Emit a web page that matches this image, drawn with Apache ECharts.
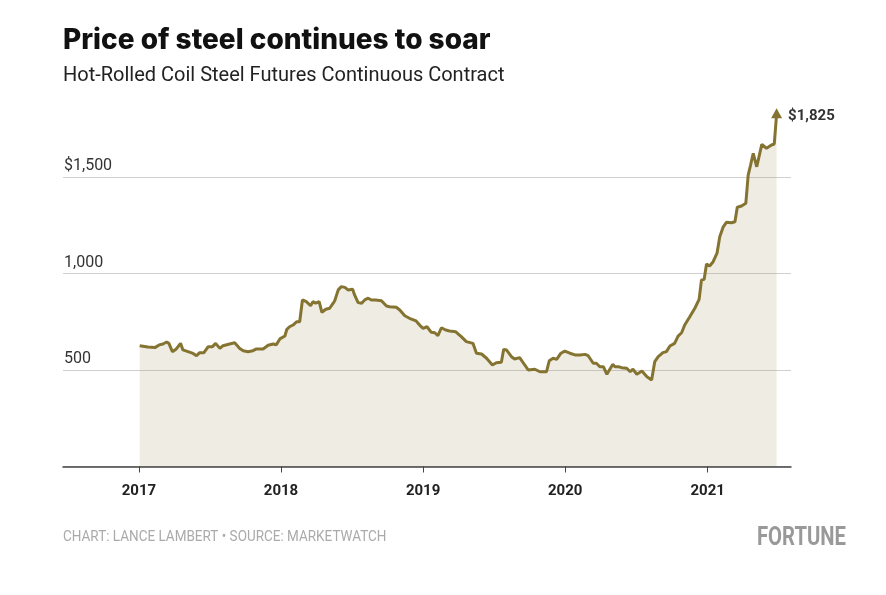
<!DOCTYPE html>
<html>
<head>
<meta charset="utf-8">
<script src="https://cdn.jsdelivr.net/npm/echarts@6/dist/echarts.min.js"></script>
<style>
  html, body { margin: 0; padding: 0; background: #fff; }
  #chart { width: 886px; height: 595px; }
</style>
</head>
<body>
<div id="chart"></div>
<script>
// hot-rolled coil futures (roughly every 1-2 weeks)
const dates = [
  '2017-01-03','2017-01-24','2017-02-11','2017-02-15','2017-02-22','2017-03-04','2017-03-13','2017-03-19','2017-03-28','2017-04-07',
  '2017-04-18','2017-04-24','2017-05-07','2017-05-20','2017-05-29','2017-06-06','2017-06-17','2017-06-28','2017-07-09','2017-07-17',
  '2017-07-28','2017-08-05','2017-08-22','2017-09-04','2017-09-17','2017-09-26','2017-10-08','2017-10-21','2017-10-30','2017-11-16',
  '2017-11-29','2017-12-12','2017-12-20','2017-12-29',
  '2018-01-11','2018-01-16','2018-01-23','2018-02-01','2018-02-10','2018-02-18','2018-02-25','2018-02-28','2018-03-07','2018-03-18',
  '2018-03-24','2018-03-31','2018-04-09','2018-04-16','2018-04-26','2018-05-06','2018-05-15','2018-05-19','2018-05-28','2018-06-05',
  '2018-06-14','2018-06-22','2018-07-04','2018-07-09','2018-07-18','2018-07-27','2018-08-04','2018-08-13','2018-08-21','2018-09-01',
  '2018-09-16','2018-09-29','2018-10-07','2018-10-24','2018-11-02','2018-11-15','2018-11-27','2018-12-14','2018-12-23',
  '2019-01-01','2019-01-11','2019-01-22','2019-01-31','2019-02-08','2019-02-17','2019-02-28','2019-03-10','2019-03-26','2019-04-09',
  '2019-04-22','2019-05-09','2019-05-18','2019-05-31','2019-06-13','2019-06-28','2019-07-08','2019-07-21','2019-07-27','2019-08-03',
  '2019-08-16','2019-08-24','2019-09-06','2019-09-19','2019-09-28','2019-10-15','2019-10-28','2019-11-14','2019-11-21','2019-12-01',
  '2019-12-10','2019-12-21','2019-12-31',
  '2020-01-13','2020-01-26','2020-02-08','2020-02-21','2020-02-29','2020-03-13','2020-03-21','2020-03-30','2020-04-08','2020-04-17',
  '2020-05-02','2020-05-08','2020-05-17','2020-05-25','2020-06-07','2020-06-16','2020-06-23','2020-07-03','2020-07-16','2020-07-29',
  '2020-08-10','2020-08-18','2020-08-27','2020-09-08','2020-09-17','2020-09-26','2020-10-08','2020-10-17','2020-10-26','2020-11-03',
  '2020-11-16','2020-11-29','2020-12-10','2020-12-16','2020-12-23','2020-12-29',
  '2021-01-06','2021-01-15','2021-01-25','2021-02-01','2021-02-10','2021-02-18','2021-03-03','2021-03-12','2021-03-18','2021-03-29',
  '2021-04-09','2021-04-15','2021-04-21','2021-04-28','2021-05-07','2021-05-20','2021-06-01','2021-06-14','2021-06-21','2021-06-27'
];
const prices = [
  626, 619, 616, 612, 630, 635, 645, 638, 595, 609,
  638, 604, 595, 586, 574, 590, 590, 621, 621, 638,
  612, 626, 635, 641, 612, 600, 595, 600, 609, 609,
  628, 635, 631, 661,
  676, 711, 724, 733, 750, 750, 863, 872, 854, 833,
  854, 846, 854, 799, 815, 820, 846, 859, 915, 932,
  928, 915, 918, 889, 849, 846, 863, 872, 863, 863,
  859, 832, 828, 825, 811, 781, 768, 754, 733,
  716, 724, 695, 693, 678, 719, 707, 702, 698, 673,
  647, 638, 587, 583, 561, 526, 538, 540, 607, 604,
  569, 557, 564, 526, 500, 504, 491, 491, 548, 561,
  555, 587, 598,
  587, 578, 578, 581, 574, 535, 535, 517, 517, 478,
  529, 517, 517, 512, 509, 491, 504, 478, 495, 465,
  448, 543, 569, 590, 595, 624, 638, 676, 693, 733,
  776, 820, 866, 966, 970, 1049,
  1039, 1061, 1105, 1191, 1242, 1265, 1263, 1268, 1343, 1350,
  1364, 1510, 1560, 1623, 1553, 1669, 1649, 1666, 1671, 1825
];
const yearTicks = [2017, 2018, 2019, 2020, 2021];
const yLabels = { 500: '500', 1000: '1,000', 1500: '$1,500' };
const lastLabel = '$1,825';

const gold = '#857431';
const toTime = s => new Date(s + 'T00:00:00').getTime();
const yearValues = yearTicks.map(y => new Date(y, 0, 1).getTime());

const seriesData = dates.map((d, i) => {
  if (i < dates.length - 1) return [toTime(d), prices[i]];
  // last point gets the arrow head + value label
  return {
    value: [toTime(d), prices[i]],
    symbol: 'triangle',
    symbolSize: [11, 10],
    symbolOffset: [0, -1],
    itemStyle: { color: gold },
    label: {
      show: true,
      position: 'right',
      distance: 6,
      offset: [0, 3],
      formatter: lastLabel,
      fontFamily: 'Roboto',
      fontWeight: 'bold',
      fontSize: 15,
      color: '#333'
    }
  };
});

const chart = echarts.init(document.getElementById('chart'), null, { renderer: 'canvas' });
chart.setOption({
  animation: false,
  backgroundColor: '#fff',
  grid: { left: 63, right: 95, top: 177, bottom: 128.5 },
  graphic: [
    {
      type: 'text', left: 63, top: 27,
      style: { text: 'Price of steel continues to soar', fontFamily: 'Inter', fontWeight: 800, fontSize: 28, fill: '#111' }
    },
    {
      type: 'text', left: 63, top: 66,
      style: { text: 'Hot-Rolled Coil Steel Futures Continuous Contract', fontFamily: 'Roboto', fontSize: 20, fill: '#222' }
    },
    {
      type: 'text', left: 63, top: 530, scaleX: 0.9,
      style: { text: 'CHART: LANCE LAMBERT \u2022 SOURCE: MARKETWATCH', fontFamily: 'Roboto', fontSize: 15, fill: '#aaa' }
    },
    {
      type: 'text', right: 40, top: 526, scaleX: 0.81,
      style: { text: 'FORTUNE', fontFamily: 'Roboto', fontWeight: 'bold', fontSize: 25, fill: '#999' }
    }
  ],
  xAxis: {
    type: 'value',
    min: toTime('2016-06-20'),
    max: toTime('2021-08-03'),
    z: 5,
    axisLine: { lineStyle: { color: '#444', width: 1.5 } },
    axisTick: { show: true, customValues: yearValues, length: 6, lineStyle: { color: '#444', width: 1 } },
    axisLabel: {
      customValues: yearValues,
      formatter: v => String(new Date(v).getFullYear()),
      margin: 17,
      fontFamily: 'Roboto',
      fontWeight: 'bold',
      fontSize: 15,
      color: '#222'
    },
    splitLine: { show: false }
  },
  yAxis: {
    type: 'value',
    min: 0,
    max: 1500,
    interval: 500,
    axisLine: { show: false },
    axisTick: { show: false },
    axisLabel: {
      inside: true,
      margin: 1,
      verticalAlign: 'bottom',
      padding: [0, 0, 3, 0],
      formatter: v => yLabels[v] || '',
      fontFamily: 'Roboto',
      fontSize: 16,
      color: '#333'
    },
    splitLine: { lineStyle: { color: '#cfcfcf', width: 1 } }
  },
  series: [{
    type: 'line',
    data: seriesData,
    clip: false,
    symbol: 'none',
    showAllSymbol: true,
    lineStyle: { color: gold, width: 3 },
    areaStyle: { color: 'rgba(165, 152, 100, 0.26)' },
    silent: true
  }]
});
</script>
</body>
</html>
